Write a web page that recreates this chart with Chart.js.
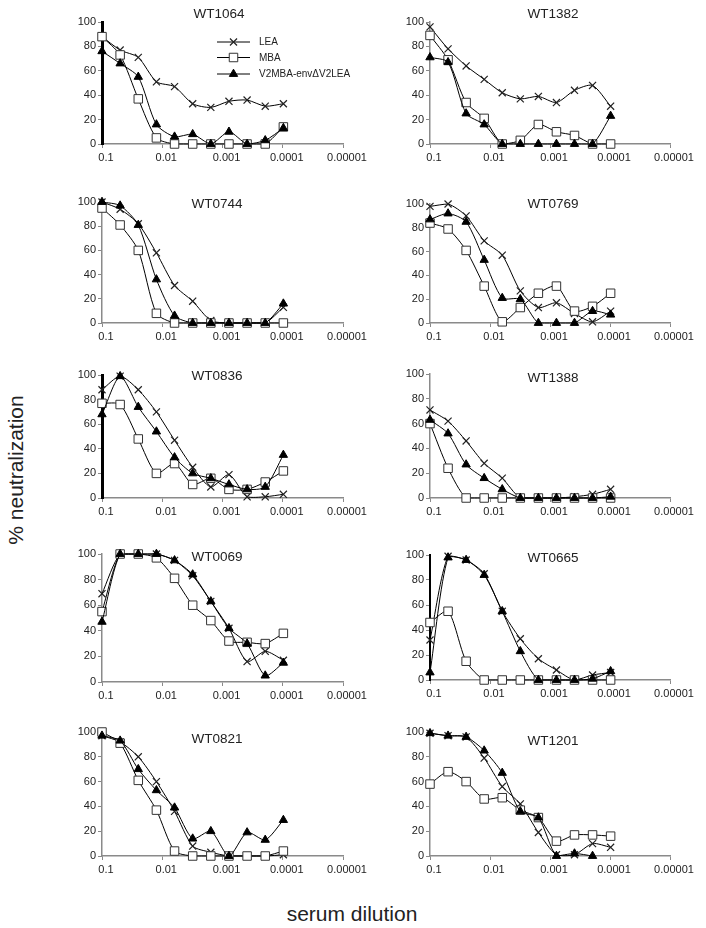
<!DOCTYPE html>
<html><head><meta charset="utf-8">
<script src="https://cdn.jsdelivr.net/npm/chart.js@4.4.1/dist/chart.umd.min.js"></script>
<style>
html,body{margin:0;padding:0;background:#fff;}
body{width:706px;height:928px;position:relative;overflow:hidden;font-family:"Liberation Sans",Arial,sans-serif;}
canvas{position:absolute;}
.ttl{position:absolute;font-size:13.5px;color:#222;transform:translate(-50%,-50%);white-space:nowrap;}
.axl{position:absolute;font-size:21px;color:#222;white-space:nowrap;transform:translate(-50%,-50%);}
</style></head><body>
<script>
// ---------- DATA ----------
const dilutions = [0.1, 0.05, 0.025, 0.0125, 0.00625, 0.003125, 0.0015625, 0.00078125, 0.000390625, 0.0001953125, 0.00009765625];
const xTickValues = [0.1, 0.01, 0.001, 0.0001, 0.00001];
const xTickLabels = ['0.1', '0.01', '0.001', '0.0001', '0.00001'];
const seriesNames = ['LEA', 'MBA', 'V2MBA-env\u0394V2LEA'];
const panelNames = ['WT1064','WT1382','WT0744','WT0769','WT0836','WT1388','WT0069','WT0665','WT0821','WT1201'];

const WT1064_LEA = [88,77,71,51,47,33,30,35,36,31,33];
const WT1064_MBA = [88,73,37,5,0,0,0,0,0,0,14];
const WT1064_V2  = [76,66,55,16,6,8,0,10,0,3,13];

const WT1382_LEA = [96,78,64,53,42,37,39,34,44,48,31];
const WT1382_MBA = [89,69,34,21,0,3,16,10,7,0,0];
const WT1382_V2  = [71,67,25,16,0,0,0,0,0,0,23];

const WT0744_LEA = [100,94,82,58,31,18,2,0,0,0,13];
const WT0744_MBA = [95,81,60,8,0,0,0,0,0,0,0];
const WT0744_V2  = [100,97,81,36,6,0,0,0,0,0,16];

const WT0769_LEA = [98,100,90,69,57,27,13,17,8,1,10];
const WT0769_MBA = [84,79,61,31,1,13,25,31,10,14,25];
const WT0769_V2  = [87,92,85,53,21,20,0,0,0,10,7];

const WT0836_LEA = [88,99,88,70,47,25,9,19,1,1,3];
const WT0836_MBA = [77,76,48,20,28,11,16,7,7,13,22];
const WT0836_V2  = [68,99,74,54,33,20,16,11,7,9,35];

const WT1388_LEA = [71,62,46,28,16,0,0,0,1,3,7];
const WT1388_MBA = [60,24,0,0,0,0,0,0,0,0,0];
const WT1388_V2  = [63,52,27,16,7,0,0,0,0,0,1];

const WT0069_LEA = [69,100,100,100,95,83,63,42,16,24,17];
const WT0069_MBA = [55,100,100,97,81,60,48,32,31,30,38];
const WT0069_V2  = [47,100,100,100,95,84,63,42,30,5,15];

const WT0665_LEA = [32,99,96,85,55,33,17,8,0,4,6];
const WT0665_MBA = [46,55,15,0,0,0,0,0,0,0,0];
const WT0665_V2  = [6,98,96,84,55,23,0,0,0,1,7];

const WT0821_LEA = [97,92,80,60,36,8,3,0,0,0,1];
const WT0821_MBA = [100,91,61,37,4,0,0,0,0,0,4];
const WT0821_V2  = [97,93,70,53,39,14,20,0,19,13,29];

const WT1201_LEA = [99,97,96,79,56,42,19,1,1,10,7];
const WT1201_MBA = [58,68,60,46,47,37,31,12,17,17,16];
const WT1201_V2  = [99,97,96,85,67,36,31,0,2,0,null];

const panelSeries = [
  [WT1064_LEA, WT1064_MBA, WT1064_V2],
  [WT1382_LEA, WT1382_MBA, WT1382_V2],
  [WT0744_LEA, WT0744_MBA, WT0744_V2],
  [WT0769_LEA, WT0769_MBA, WT0769_V2],
  [WT0836_LEA, WT0836_MBA, WT0836_V2],
  [WT1388_LEA, WT1388_MBA, WT1388_V2],
  [WT0069_LEA, WT0069_MBA, WT0069_V2],
  [WT0665_LEA, WT0665_MBA, WT0665_V2],
  [WT0821_LEA, WT0821_MBA, WT0821_V2],
  [WT1201_LEA, WT1201_MBA, WT1201_V2]
];

// ---------- LAYOUT (plot areas in page px) ----------
const colX = [[102, 343], [430, 670]];
const rowY = [
  [[22,144],[22,144]],
  [[202,323],[204,323]],
  [[375,498],[374,498]],
  [[554,682],[555,680]],
  [[732,856],[732,856]]
];
const titlePos = [[219,13],[553,13],[217,203],[553,203],[217,375],[553,377],[217,556],[553,557],[217,738],[553,740]];
const yBorder = [
  {c:'#000',w:3},{c:'#8a8a8a',w:1.5},{c:'#8a8a8a',w:1.5},{c:'#8a8a8a',w:1.5},{c:'#000',w:3},
  {c:'#8a8a8a',w:1.5},{c:'#8a8a8a',w:1.5},{c:'#000',w:2},{c:'#8a8a8a',w:1.5},{c:'#8a8a8a',w:1.5}
];

const FONT = '"Liberation Sans", Arial, sans-serif';
const styles = [
  {pointStyle:'crossRot', pointRadius:5, pointBorderWidth:1.2, pointBackgroundColor:'#000', pointBorderColor:'#222'},
  {pointStyle:'rect', pointRadius:6, pointBorderWidth:1, pointBackgroundColor:'#fff', pointBorderColor:'#333'},
  {pointStyle:'triangle', pointRadius:4.8, pointBorderWidth:1, pointBackgroundColor:'#000', pointBorderColor:'#000'}
];

const legendPlugin = {
  id: 'panelLegend',
  afterDraw(chart) {
    if (!chart.options.plugins.panelLegend || !chart.options.plugins.panelLegend.show) return;
    const ctx = chart.ctx, a = chart.chartArea;
    const x0 = a.left + 115, x1 = a.left + 148, tx = a.left + 157;
    const ys = [a.top + 20, a.top + 35.5, a.top + 52];
    chart.data.datasets.forEach((ds, i) => {
      ctx.save();
      ctx.strokeStyle = '#000'; ctx.lineWidth = 1;
      ctx.beginPath(); ctx.moveTo(x0, ys[i]); ctx.lineTo(x1, ys[i]); ctx.stroke();
      ctx.fillStyle = ds.pointBackgroundColor; ctx.strokeStyle = ds.pointBorderColor;
      ctx.lineWidth = ds.pointBorderWidth;
      Chart.helpers.drawPoint(ctx, {pointStyle: ds.pointStyle, radius: ds.pointRadius, rotation: 0, borderWidth: ds.pointBorderWidth}, (x0 + x1) / 2, ys[i]);
      ctx.fillStyle = '#222';
      ctx.font = '10px ' + FONT;
      ctx.textBaseline = 'middle'; ctx.textAlign = 'left';
      ctx.fillText(seriesNames[i], tx, ys[i] + 0.5);
      ctx.restore();
    });
  }
};

const PADL = 50, PADT = 12, PADR = 40, PADB = 28;

panelNames.forEach((name, k) => {
  const col = k % 2, row = Math.floor(k / 2);
  const L = colX[col][0], R = colX[col][1];
  const T = rowY[row][col][0], B = rowY[row][col][1];
  const w = (R - L) + PADL + PADR, h = (B - T) + PADT + PADB;
  const c = document.createElement('canvas');
  c.width = w; c.height = h;
  c.style.left = (L - PADL) + 'px'; c.style.top = (T - PADT) + 'px';
  c.style.width = w + 'px'; c.style.height = h + 'px';
  document.body.appendChild(c);

  const t = document.createElement('div');
  t.className = 'ttl'; t.textContent = name;
  t.style.left = titlePos[k][0] + 'px'; t.style.top = titlePos[k][1] + 'px';
  document.body.appendChild(t);

  const datasets = panelSeries[k].map((vals, i) => Object.assign({
    label: seriesNames[i],
    data: dilutions.map((d, j) => ({x: d, y: vals[j]})).filter(p => p.y !== null),
    borderColor: '#000',
    borderWidth: 1,
    tension: 0.25,
    fill: false,
    clip: false,
    order: 2 - i
  }, styles[i]));

  new Chart(c, {
    type: 'line',
    data: {datasets},
    plugins: [legendPlugin],
    options: {
      responsive: false,
      animation: false,
      devicePixelRatio: 1,
      layout: {padding: {left: 0, top: PADT, right: PADR, bottom: 0}},
      plugins: {
        legend: {display: false},
        tooltip: {enabled: false},
        title: {display: false},
        panelLegend: {show: k === 0}
      },
      scales: {
        x: {
          type: 'logarithmic',
          reverse: true,
          min: 0.00001,
          max: 0.1,
          afterBuildTicks: (s) => { s.ticks = xTickValues.map(v => ({value: v})); },
          afterFit: (s) => { s.height = PADB; },
          grid: {display: true, drawOnChartArea: false, drawTicks: true, tickLength: 4, color: '#8a8a8a', lineWidth: 1},
          border: {display: true, color: '#8a8a8a', width: 1.5},
          ticks: {
            autoSkip: false, maxRotation: 0, minRotation: 0, padding: 3, labelOffset: 4,
            color: '#222', font: {size: 11, family: FONT},
            callback: (v, i) => xTickLabels[i]
          }
        },
        y: {
          type: 'linear',
          min: 0, max: 100,
          afterFit: (s) => { s.width = PADL; },
          grid: {display: true, drawOnChartArea: false, drawTicks: true, tickLength: 4, color: '#8a8a8a', lineWidth: 1},
          border: {display: true, color: yBorder[k].c, width: yBorder[k].w},
          ticks: {stepSize: 20, padding: 2, color: '#222', font: {size: 11, family: FONT}}
        }
      }
    }
  });
});

const yl = document.createElement('div');
yl.className = 'axl'; yl.textContent = '% neutralization';
yl.style.left = '16px'; yl.style.top = '470px';
yl.style.transform = 'translate(-50%,-50%) rotate(-90deg)';
document.body.appendChild(yl);

const xl = document.createElement('div');
xl.className = 'axl'; xl.textContent = 'serum dilution';
xl.style.left = '352px'; xl.style.top = '914px';
document.body.appendChild(xl);
</script>
</body></html>
